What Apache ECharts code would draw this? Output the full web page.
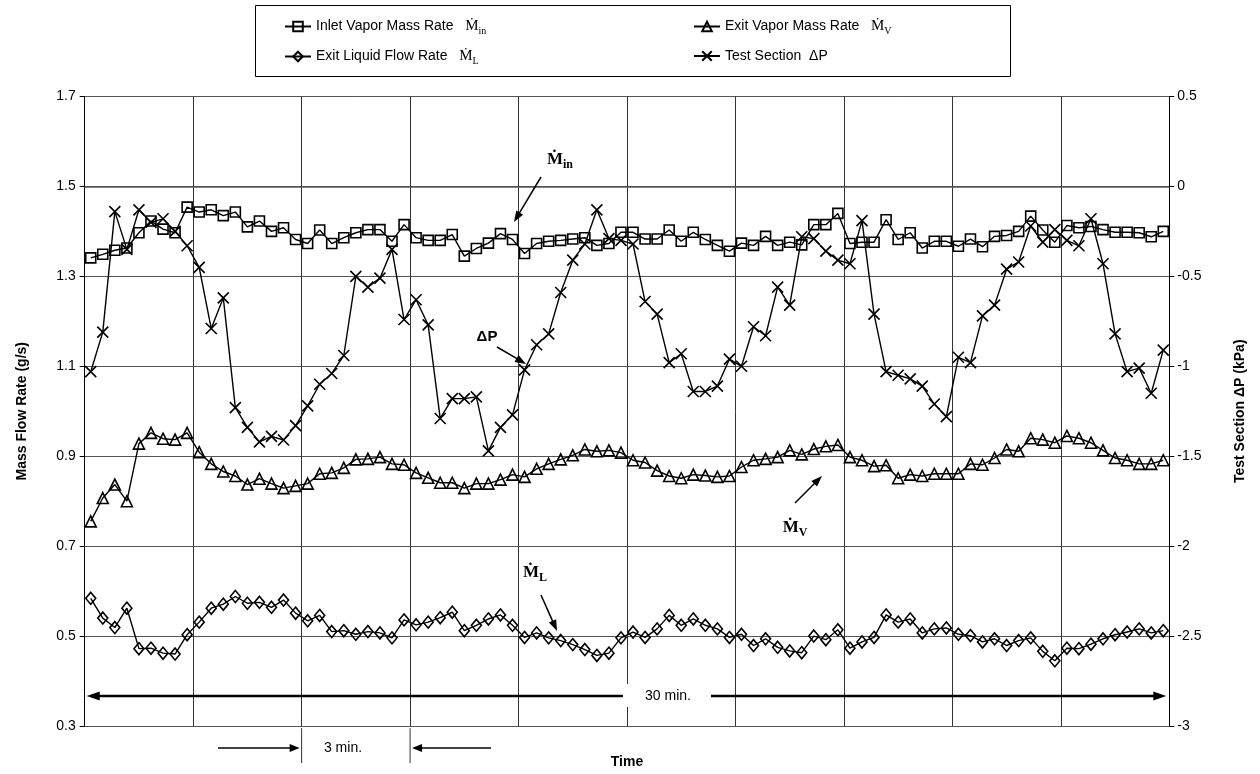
<!DOCTYPE html>
<html><head><meta charset="utf-8">
<script src="https://cdn.jsdelivr.net/npm/echarts@6/dist/echarts.min.js"></script>
<style>html,body{margin:0;padding:0;background:#fff}#c{width:1260px;height:774px}</style>
</head><body><div id="c"></div>
<script>
// ---- data (90 samples, 20 s apart, 30 min) ----
const categories = Array.from({length: 90}, (_, i) => String(i + 1));
const inletVapor = [1.341,1.349,1.358,1.363,1.397,1.423,1.405,1.397,1.454,1.443,
  1.448,1.435,1.443,1.410,1.423,1.400,1.408,1.382,1.373,1.403,
  1.373,1.386,1.397,1.404,1.404,1.378,1.415,1.386,1.380,1.380,
  1.393,1.345,1.362,1.374,1.395,1.382,1.351,1.373,1.378,1.380,
  1.383,1.386,1.369,1.373,1.398,1.398,1.383,1.383,1.403,1.378,
  1.398,1.382,1.369,1.356,1.374,1.369,1.389,1.369,1.376,1.370,
  1.415,1.415,1.440,1.373,1.376,1.376,1.426,1.382,1.397,1.363,
  1.378,1.378,1.367,1.383,1.366,1.389,1.391,1.400,1.434,1.403,
  1.376,1.413,1.408,1.411,1.404,1.398,1.398,1.397,1.388,1.400];
const exitVapor = [0.755,0.807,0.837,0.800,0.928,0.952,0.939,0.937,0.952,0.909,
  0.883,0.866,0.856,0.837,0.850,0.839,0.829,0.834,0.839,0.861,
  0.863,0.874,0.893,0.894,0.898,0.883,0.881,0.863,0.852,0.841,
  0.841,0.829,0.839,0.839,0.848,0.859,0.854,0.872,0.883,0.893,
  0.902,0.915,0.911,0.913,0.908,0.891,0.886,0.868,0.856,0.851,
  0.859,0.857,0.854,0.856,0.876,0.891,0.894,0.898,0.913,0.904,
  0.916,0.922,0.925,0.898,0.891,0.878,0.880,0.851,0.859,0.856,
  0.861,0.861,0.861,0.883,0.881,0.896,0.915,0.911,0.940,0.937,
  0.930,0.945,0.940,0.930,0.913,0.896,0.891,0.883,0.883,0.891];
const exitLiquid = [0.584,0.540,0.519,0.562,0.472,0.473,0.462,0.460,0.503,0.531,
  0.562,0.571,0.588,0.573,0.575,0.564,0.580,0.551,0.534,0.546,
  0.510,0.512,0.504,0.510,0.507,0.496,0.536,0.525,0.531,0.541,
  0.553,0.512,0.524,0.538,0.547,0.524,0.497,0.507,0.496,0.490,
  0.481,0.470,0.457,0.462,0.496,0.509,0.497,0.516,0.546,0.524,
  0.538,0.524,0.516,0.497,0.504,0.479,0.494,0.475,0.467,0.463,
  0.500,0.492,0.514,0.473,0.487,0.497,0.547,0.531,0.538,0.507,
  0.516,0.518,0.504,0.501,0.487,0.494,0.479,0.490,0.496,0.466,
  0.445,0.473,0.472,0.482,0.494,0.503,0.509,0.516,0.507,0.512];
const deltaP = [-1.03,-0.81,-0.14,-0.35,-0.13,-0.20,-0.18,-0.25,-0.33,-0.45,
  -0.79,-0.62,-1.23,-1.34,-1.42,-1.39,-1.41,-1.33,-1.22,-1.10,
  -1.04,-0.94,-0.50,-0.56,-0.51,-0.35,-0.74,-0.63,-0.77,-1.29,
  -1.18,-1.18,-1.17,-1.47,-1.34,-1.27,-1.02,-0.88,-0.82,-0.59,
  -0.41,-0.32,-0.13,-0.29,-0.30,-0.32,-0.64,-0.71,-0.98,-0.93,
  -1.14,-1.14,-1.11,-0.96,-1.00,-0.78,-0.83,-0.56,-0.66,-0.28,
  -0.29,-0.36,-0.41,-0.43,-0.19,-0.71,-1.03,-1.05,-1.07,-1.11,
  -1.21,-1.28,-0.95,-0.98,-0.72,-0.66,-0.46,-0.42,-0.22,-0.31,
  -0.24,-0.30,-0.33,-0.18,-0.43,-0.82,-1.03,-1.01,-1.15,-0.91];
const leftTicks = [0.3, 0.5, 0.7, 0.9, 1.1, 1.3, 1.5, 1.7];
const seriesNames = ['Inlet Vapor Mass Rate', 'Exit Vapor Mass Rate', 'Exit Liquid Flow Rate', 'Test Section  \u0394P'];

// ---- layout ----
const G = {left: 84.7, right: 90.7, top: 96.5, bottom: 45.8};
const W = 1260, H = 774;
const PL = G.left, PR = W - G.right, PT = G.top, PB = H - G.bottom;
const colW = (PR - PL) / 10;

const SANS = 'Liberation Sans, Arial, sans-serif';
const SERIF = 'Liberation Serif, DejaVu Serif, serif';

function arrow(x1, y1, x2, y2, w, hl, hw) {
  const a = Math.atan2(y2 - y1, x2 - x1);
  const bx = x2 - hl * Math.cos(a), by = y2 - hl * Math.sin(a);
  const px = -Math.sin(a) * hw / 2, py = Math.cos(a) * hw / 2;
  return [
    {type: 'line', z: 100, shape: {x1: x1, y1: y1, x2: bx + Math.cos(a), y2: by + Math.sin(a)}, style: {stroke: '#000', lineWidth: w}},
    {type: 'polygon', z: 100, shape: {points: [[x2, y2], [bx + px, by + py], [bx - px, by - py]]}, style: {fill: '#000'}}
  ];
}

const legendRich = {
  t: {fontFamily: SANS, fontSize: 14, color: '#000'},
  m: {fontFamily: SERIF, fontSize: 15, color: '#000', lineHeight: 20},
  s: {fontFamily: SERIF, fontSize: 10, color: '#000', verticalAlign: 'bottom', lineHeight: 20}
};
const legendSym = {
  'Inlet Vapor Mass Rate': '{m|\u1E40}{s|in}',
  'Exit Vapor Mass Rate': '{m|\u1E40}{s|V}',
  'Exit Liquid Flow Rate': '{m|\u1E40}{s|L}',
  'Test Section  \u0394P': ''
};
function mkLegend(name, left, top) {
  return {
    data: [name], left: left, top: top, padding: 0, itemWidth: 26, itemHeight: 12, itemGap: 0,
    textStyle: {fontFamily: SANS, fontSize: 14, color: '#000', rich: legendRich},
    formatter: n => '{t|' + n + '}' + (legendSym[n] ? '   ' + legendSym[n] : '')
  };
}

const annRich = {
  m: {fontFamily: SERIF, fontSize: 17, fontWeight: 'bold', color: '#000', lineHeight: 22},
  s: {fontFamily: SERIF, fontSize: 12, fontWeight: 'bold', color: '#000', verticalAlign: 'bottom', lineHeight: 22}
};

const graphics = [
  {type: 'rect', z: -1, shape: {x: 255.5, y: 5.5, width: 755, height: 71}, style: {fill: '#fff', stroke: '#000', lineWidth: 1}},
  // 30 min span arrow
  {type: 'rect', z: 99, shape: {x: 624, y: 684, width: 87, height: 23}, style: {fill: '#fff'}},
  {type: 'text', z: 101, x: 668, y: 696, style: {text: '30 min.', font: '14px ' + SANS, fill: '#000', align: 'center', verticalAlign: 'middle'}},
  ...arrow(623, 696, PL + 2, 696, 2.5, 13, 9),
  ...arrow(711, 696, PR - 3, 696, 2.5, 13, 9),
  // 3 min marker
  {type: 'line', shape: {x1: PL + 2 * colW, y1: PB, x2: PL + 2 * colW, y2: 763}, style: {stroke: '#333', lineWidth: 1}},
  {type: 'line', shape: {x1: PL + 3 * colW, y1: PB, x2: PL + 3 * colW, y2: 763}, style: {stroke: '#333', lineWidth: 1}},
  ...arrow(218, 748, PL + 2 * colW - 2, 748, 1.5, 10, 8),
  ...arrow(491, 748, PL + 3 * colW + 2, 748, 1.5, 10, 8),
  {type: 'text', x: 343, y: 748, style: {text: '3 min.', font: '14px ' + SANS, fill: '#000', align: 'center', verticalAlign: 'middle'}},
  // annotations
  {type: 'text', z: 101, x: 560, y: 160, style: {text: '{m|\u1E40}{s|in}', rich: annRich, align: 'center', verticalAlign: 'middle'}},
  ...arrow(541, 177, 514, 222, 1.5, 11, 8),
  {type: 'text', z: 101, x: 487, y: 337, style: {text: '\u0394P', font: 'bold 15px ' + SANS, fill: '#000', align: 'center', verticalAlign: 'middle'}},
  ...arrow(497, 347, 526, 364, 1.5, 11, 8),
  {type: 'text', z: 101, x: 795, y: 528, style: {text: '{m|\u1E40}{s|V}', rich: annRich, align: 'center', verticalAlign: 'middle'}},
  ...arrow(795, 503, 822, 476, 1.5, 11, 8),
  {type: 'text', z: 101, x: 535, y: 573, style: {text: '{m|\u1E40}{s|L}', rich: annRich, align: 'center', verticalAlign: 'middle'}},
  ...arrow(541, 595, 557, 631, 1.5, 11, 8)
];

const mk = {color: 'rgba(255,255,255,0)', borderColor: '#000', borderWidth: 1.6};
const ln = {color: '#000', width: 1.4};

const option = {
  animation: false,
  backgroundColor: '#fff',
  grid: {left: G.left, right: G.right, top: G.top, bottom: G.bottom, show: false},
  legend: [
    mkLegend(seriesNames[0], 284, 19),
    mkLegend(seriesNames[1], 693, 19),
    mkLegend(seriesNames[2], 284, 49),
    mkLegend(seriesNames[3], 693, 49)
  ],
  xAxis: {
    type: 'category', data: categories, boundaryGap: true,
    axisLine: {show: true, lineStyle: {color: '#555', width: 1.5}},
    axisTick: {show: false}, axisLabel: {show: false},
    splitLine: {show: true, interval: 8, lineStyle: {color: '#333', width: 1}},
    name: 'Time', nameLocation: 'middle', nameGap: 29,
    nameTextStyle: {fontFamily: SANS, fontSize: 14, fontWeight: 'bold', color: '#000'}
  },
  yAxis: [
    {
      type: 'value', min: 0.3, max: 1.7, position: 'left',
      axisLine: {show: true, lineStyle: {color: '#000', width: 1}},
      axisTick: {show: true, inside: false, length: 5, customValues: leftTicks, lineStyle: {color: '#000'}},
      axisLabel: {customValues: leftTicks, formatter: v => v.toFixed(1), fontFamily: SANS, fontSize: 14, color: '#000', margin: 9},
      splitLine: {show: false},
      name: 'Mass Flow Rate (g/s)', nameLocation: 'middle', nameGap: 56, nameRotate: 90,
      nameTextStyle: {fontFamily: SANS, fontSize: 14, fontWeight: 'bold', color: '#000'}
    },
    {
      type: 'value', min: -3, max: 0.5, interval: 0.5, position: 'right',
      axisLine: {show: true, lineStyle: {color: '#000', width: 1}},
      axisTick: {show: true, inside: false, length: 5, lineStyle: {color: '#000'}},
      axisLabel: {fontFamily: SANS, fontSize: 14, color: '#000', margin: 8},
      splitLine: {show: true, lineStyle: {color: '#555', width: 1}},
      name: 'Test Section \u0394P (kPa)', nameLocation: 'middle', nameGap: 64, nameRotate: 90,
      nameTextStyle: {fontFamily: SANS, fontSize: 14, fontWeight: 'bold', color: '#000'}
    }
  ],
  series: [
    {name: seriesNames[0], type: 'line', yAxisIndex: 0, data: inletVapor, symbol: 'rect', symbolSize: 10, showAllSymbol: true, itemStyle: mk, lineStyle: ln},
    {name: seriesNames[1], type: 'line', yAxisIndex: 0, data: exitVapor, symbol: 'triangle', symbolSize: 11, showAllSymbol: true, itemStyle: mk, lineStyle: ln},
    {name: seriesNames[2], type: 'line', yAxisIndex: 0, data: exitLiquid, symbol: 'diamond', symbolSize: [10, 12], showAllSymbol: true, itemStyle: mk, lineStyle: ln},
    {name: seriesNames[3], type: 'line', yAxisIndex: 1, data: deltaP, symbol: 'path://M0,0L10,10M10,0L0,10', symbolSize: 11, showAllSymbol: true, itemStyle: mk, lineStyle: ln}
  ],
  graphic: graphics
};

const chart = echarts.init(document.getElementById('c'), null, {renderer: 'canvas'});
chart.setOption(option);
</script>
</body></html>
